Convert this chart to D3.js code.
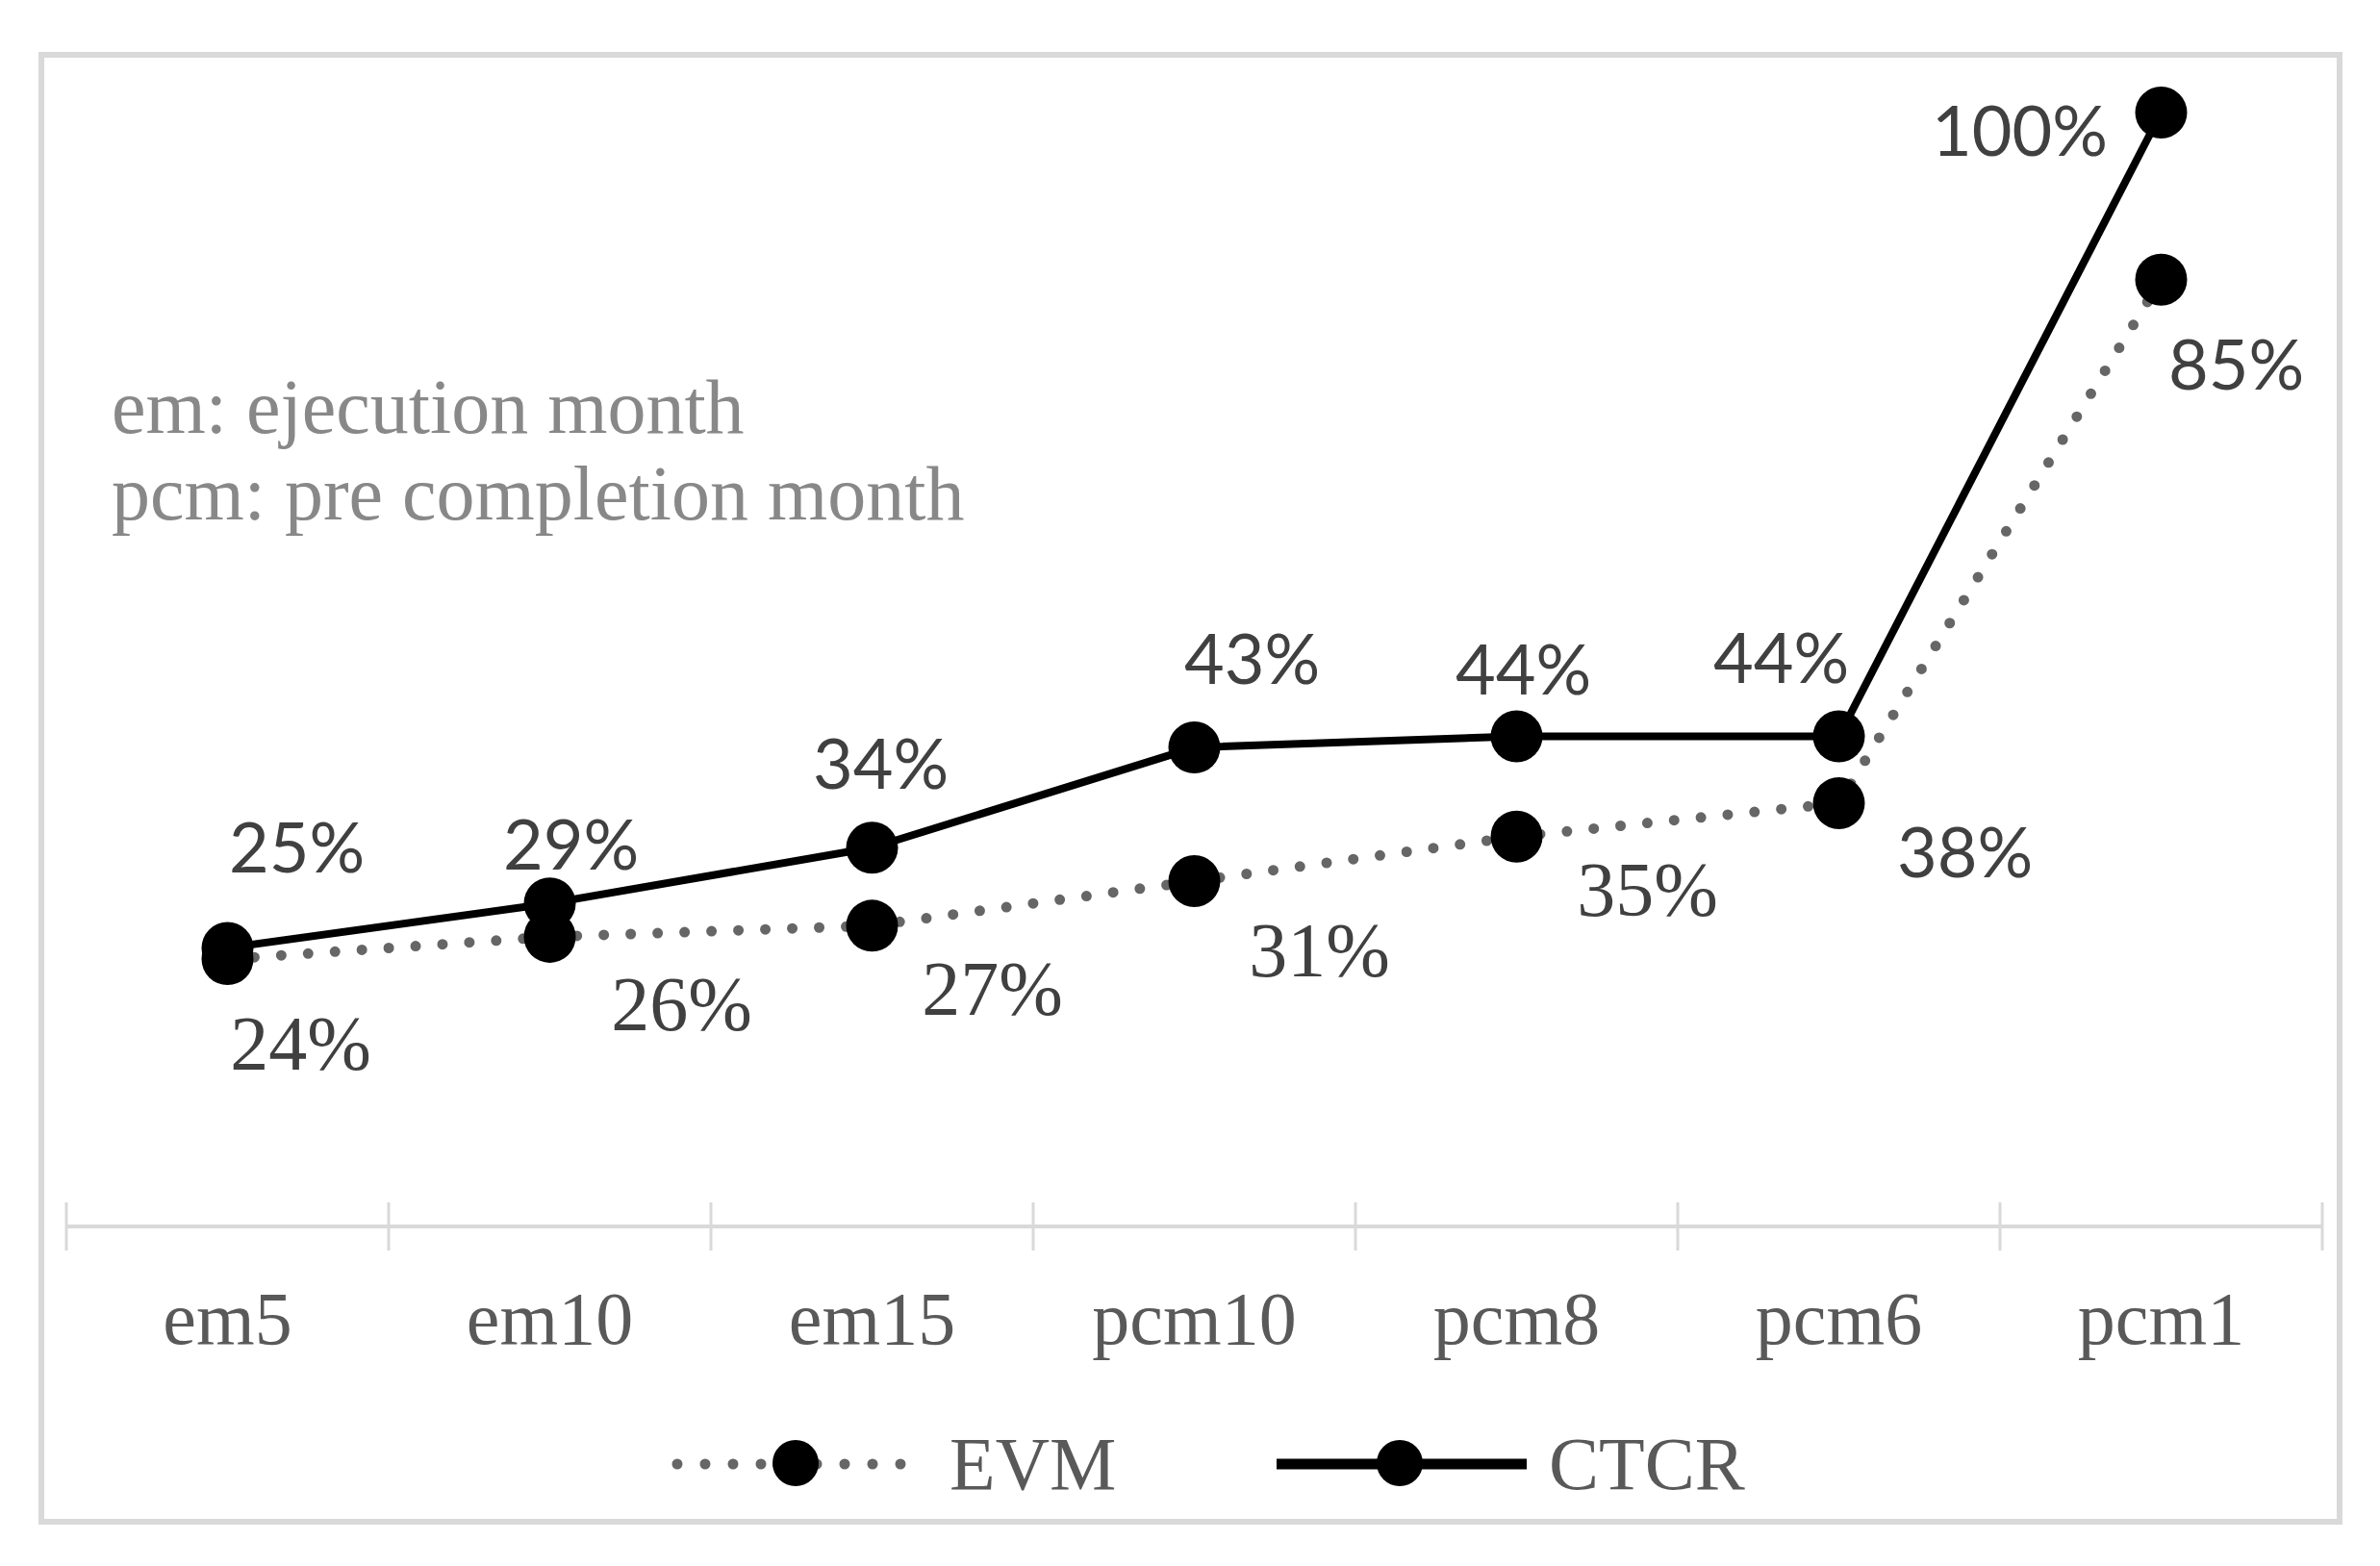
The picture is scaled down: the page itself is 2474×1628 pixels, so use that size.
<!DOCTYPE html>
<html>
<head>
<meta charset="utf-8">
<script src="https://cdn.jsdelivr.net/npm/d3@7"></script>
<style>
  html, body { margin: 0; padding: 0; background: #fff; }
  svg { display: block; }
</style>
</head>
<body>
<div id="chart"></div>
<script>
// categories and series values (percent)
let categories = ["em5", "em10", "em15", "pcm10", "pcm8", "pcm6", "pcm1"];
let evmValues  = [24, 26, 27, 31, 35, 38, 85];
let ctcrValues = [25, 29, 34, 43, 44, 44, 100];
let noteLines  = ["em: ejecution month", "pcm: pre completion month"];

// hand-placed data label offsets, like the Excel original (dx, dy from the point)
let ctcrLabelOffset = [[72,-79],[22,-35],[9,-61],[60,-66],[7,-43],[-60,-55],[-147,45]];
let evmLabelOffset  = [[76,115],[137,97],[125,93],[130,99],[136,82],[131,77],[78,114]];
// which EVM labels came out in the serif face
let evmLabelSerif   = [true, true, true, true, true, false, false];

const W = 2474, H = 1628;
const serif = "'Liberation Serif', 'Times New Roman', serif";
const sans  = "Lato, 'Open Sans', sans-serif";

const svg = d3.select("#chart").append("svg")
  .attr("width", W).attr("height", H);

// outer chart frame
svg.append("rect")
  .attr("x", 43).attr("y", 57).attr("width", 2389).attr("height", 1525)
  .attr("fill", "#fff").attr("stroke", "#d9d9d9").attr("stroke-width", 6);

let x = d3.scaleBand().domain(categories).range([69, 2414]).padding(0);
let y = d3.scaleLinear().domain([0, 100]).range([1275, 117]);
let cx = c => x(c) + x.bandwidth() / 2;

// category axis: line + ticks on band edges
let axisG = svg.append("g").attr("class", "x-axis");
axisG.append("line")
  .attr("x1", x.range()[0]).attr("x2", x.range()[1])
  .attr("y1", y(0)).attr("y2", y(0))
  .attr("stroke", "#d9d9d9").attr("stroke-width", 4);
let edges = categories.map(c => x(c)).concat([x.range()[1]]);
axisG.selectAll("line.tick").data(edges).enter().append("line")
  .attr("class", "tick")
  .attr("x1", d => d).attr("x2", d => d)
  .attr("y1", y(0) - 25).attr("y2", y(0) + 25)
  .attr("stroke", "#d9d9d9").attr("stroke-width", 3);
axisG.selectAll("text").data(categories).enter().append("text")
  .attr("x", d => cx(d)).attr("y", 1397)
  .attr("text-anchor", "middle")
  .attr("font-family", serif).attr("font-size", 78)
  .attr("fill", "#595959")
  .text(d => d);

// note text
svg.append("g").selectAll("text").data(noteLines).enter().append("text")
  .attr("x", 116).attr("y", (d, i) => 450 + i * 90)
  .attr("font-family", serif).attr("font-size", 80)
  .attr("fill", "#888888")
  .text(d => d);

let line = d3.line().x((d, i) => cx(categories[i])).y(d => y(d));

// EVM: grey round dotted line
svg.append("path").datum(evmValues)
  .attr("d", line)
  .attr("fill", "none").attr("stroke", "#666666")
  .attr("stroke-width", 11).attr("stroke-linecap", "round")
  .attr("stroke-dasharray", "0,28");

// CTCR: solid black line
svg.append("path").datum(ctcrValues)
  .attr("d", line)
  .attr("fill", "none").attr("stroke", "#000")
  .attr("stroke-width", 8).attr("stroke-linejoin", "round");

// markers
[evmValues, ctcrValues].forEach(vals => {
  svg.append("g").selectAll("circle").data(vals).enter().append("circle")
    .attr("cx", (d, i) => cx(categories[i]))
    .attr("cy", d => y(d))
    .attr("r", 27).attr("fill", "#000");
});

// data labels
svg.append("g").selectAll("text").data(ctcrValues).enter().append("text")
  .attr("x", (d, i) => cx(categories[i]) + ctcrLabelOffset[i][0])
  .attr("y", (d, i) => y(d) + ctcrLabelOffset[i][1])
  .attr("text-anchor", "middle")
  .attr("font-family", sans).attr("font-size", 72)
  .attr("fill", "#404040")
  .text(d => d + "%");

svg.append("g").selectAll("text").data(evmValues).enter().append("text")
  .attr("x", (d, i) => cx(categories[i]) + evmLabelOffset[i][0])
  .attr("y", (d, i) => y(d) + evmLabelOffset[i][1])
  .attr("text-anchor", "middle")
  .attr("font-family", (d, i) => evmLabelSerif[i] ? serif : sans)
  .attr("font-size", (d, i) => evmLabelSerif[i] ? 80 : 72)
  .attr("fill", "#404040")
  .text(d => d + "%");

// legend
let legendItems = [
  {name: "EVM",  x1: 704,  x2: 937,  mx: 827,  tx: 987,  dotted: true},
  {name: "CTCR", x1: 1327, x2: 1587, mx: 1455, tx: 1610, dotted: false}
];
let legend = svg.append("g").attr("class", "legend");
legendItems.forEach(d => {
  let g = legend.append("g");
  g.append("line")
    .attr("x1", d.x1).attr("x2", d.x2).attr("y1", 1522).attr("y2", 1522)
    .attr("stroke", d.dotted ? "#666666" : "#000")
    .attr("stroke-width", d.dotted ? 11 : 11)
    .attr("stroke-linecap", d.dotted ? "round" : "butt")
    .attr("stroke-dasharray", d.dotted ? "0,29" : null);
  g.append("circle").attr("cx", d.mx).attr("cy", 1521).attr("r", 24).attr("fill", "#000");
  g.append("text").attr("x", d.tx).attr("y", 1548)
    .attr("font-family", serif).attr("font-size", 78)
    .attr("fill", "#595959")
    .text(d.name);
});
</script>
</body>
</html>
